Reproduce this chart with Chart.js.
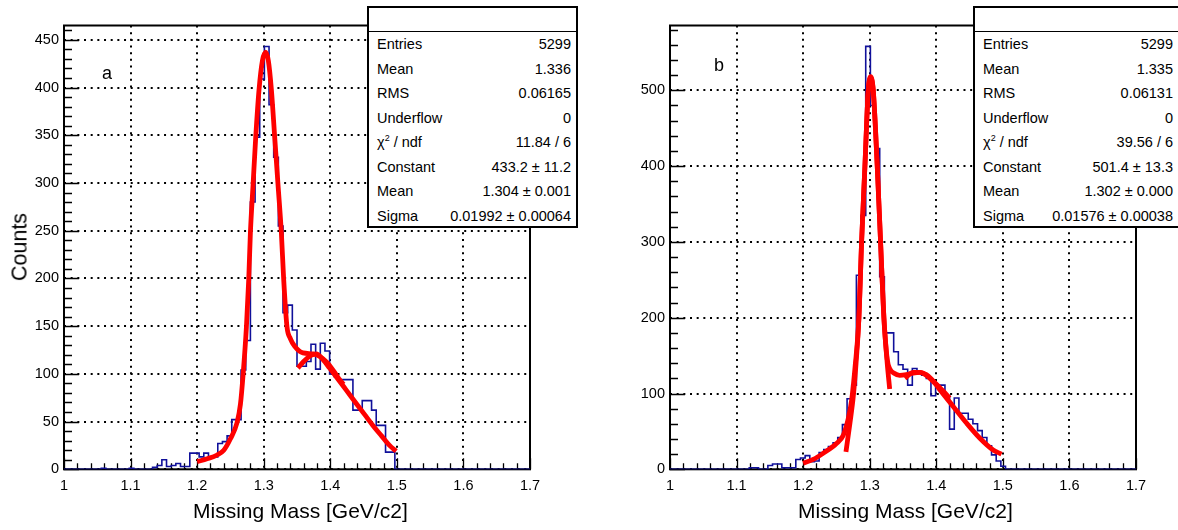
<!DOCTYPE html>
<html>
<head>
<meta charset="utf-8">
<script src="https://cdn.jsdelivr.net/npm/chart.js@4.4.1/dist/chart.umd.min.js"></script>
<style>
  body { margin: 0; background: #fff; width: 1178px; height: 530px; overflow: hidden; position: relative;
         font-family: "Liberation Sans", Arial, sans-serif; color: #000; }
  canvas { position: absolute; top: 0; }
  #chartA { left: 0; }
  #chartB { left: 589px; }
  .stats { position: absolute; top: 6px; height: 222px; background: #fff; border: 2px solid #000;
           box-sizing: border-box; font-size: 14.5px; z-index: 2; }
  .stats .head { height: 23px; border-bottom: 1.5px solid #000; }
  .stats .row { display: flex; justify-content: space-between; height: 24.5px; line-height: 24.5px; padding: 0 5px 0 8px; }
  .stats sup { font-size: 9px; line-height: 0; }
  .txt { position: absolute; white-space: nowrap; z-index: 2; }
  .xtitle { font-size: 21px; top: 499px; }
  .ytitle { font-size: 21.5px; left: 20px; top: 247px; transform: translate(-50%, -50%) rotate(-90deg); }
  .tag { font-size: 18px; }
</style>
</head>
<body>
<canvas id="chartA" width="589" height="530"></canvas>
<canvas id="chartB" width="589" height="530"></canvas>

<div class="stats" style="left:367px; width:211px;">
  <div class="head"></div>
  <div class="row"><span>Entries</span><span>5299</span></div>
  <div class="row"><span>Mean</span><span>1.336</span></div>
  <div class="row"><span>RMS</span><span>0.06165</span></div>
  <div class="row"><span>Underflow</span><span>0</span></div>
  <div class="row"><span>χ<sup>2</sup> / ndf</span><span>11.84 / 6</span></div>
  <div class="row"><span>Constant</span><span>433.2 ± 11.2</span></div>
  <div class="row"><span>Mean</span><span>1.304 ± 0.001</span></div>
  <div class="row"><span>Sigma</span><span>0.01992 ± 0.00064</span></div>
</div>
<div class="stats" style="left:973px; width:212px;">
  <div class="head"></div>
  <div class="row" style="padding-right:10px"><span>Entries</span><span>5299</span></div>
  <div class="row" style="padding-right:10px"><span>Mean</span><span>1.335</span></div>
  <div class="row" style="padding-right:10px"><span>RMS</span><span>0.06131</span></div>
  <div class="row" style="padding-right:10px"><span>Underflow</span><span>0</span></div>
  <div class="row" style="padding-right:10px"><span>χ<sup>2</sup> / ndf</span><span>39.56 / 6</span></div>
  <div class="row" style="padding-right:10px"><span>Constant</span><span>501.4 ± 13.3</span></div>
  <div class="row" style="padding-right:10px"><span>Mean</span><span>1.302 ± 0.000</span></div>
  <div class="row" style="padding-right:10px"><span>Sigma</span><span>0.01576 ± 0.00038</span></div>
</div>

<div class="txt ytitle">Counts</div>
<div class="txt xtitle" style="left:193px;">Missing Mass [GeV/c2]</div>
<div class="txt xtitle" style="left:798px;">Missing Mass [GeV/c2]</div>
<div class="txt tag" style="left:102px; top:63px;">a</div>
<div class="txt tag" style="left:714px; top:55px;">b</div>

<script>
// histogram binning: 100 bins from 1.0 to 1.7
const xMin = 1.0;
const xMax = 1.7;
const binWidth = 0.007;

// bin contents, panel a
const countsA = [
  0, 0, 0, 0, 0, 0, 0, 0, 1, 0,
  0, 0, 0, 0, 1, 0, 0, 0, 0, 2,
  4, 10, 3, 4, 6, 3, 3, 17, 17, 13,
  17, 12, 13, 27, 29, 35, 52, 52, 104, 135,
  280, 348, 409, 443, 382, 327, 255, 164, 172, 146,
  108, 108, 113, 131, 105, 132, 124, 100, 97, 94,
  94, 94, 62, 62, 72, 72, 62, 46, 46, 18,
  18, 0, 0, 0, 0, 0, 0, 0, 0, 0,
  0, 0, 0, 0, 0, 0, 0, 0, 0, 0,
  0, 0, 0, 0, 0, 0, 0, 0, 0, 0
];

// bin contents, panel b
const countsB = [
  0, 0, 0, 0, 0, 0, 0, 0, 0, 0,
  0, 0, 0, 0, 0, 0, 0, 2, 2, 0,
  0, 5, 7, 7, 2, 2, 2, 13, 15, 18,
  10, 11, 22, 26, 30, 35, 42, 59, 93, 111,
  256, 335, 558, 480, 423, 254, 180, 180, 155, 138,
  132, 111, 133, 127, 124, 120, 97, 111, 111, 97,
  53, 94, 74, 74, 66, 60, 51, 42, 31, 19,
  11, 4, 0, 0, 0, 0, 0, 0, 0, 0,
  0, 0, 0, 0, 0, 0, 0, 0, 0, 0,
  0, 0, 0, 0, 0, 0, 0, 0, 0, 0
];

// fit curves
const fitA_x = [1.2, 1.215, 1.23, 1.24, 1.25, 1.26, 1.265, 1.269, 1.274, 1.2775, 1.28, 1.284, 1.288, 1.293, 1.298, 1.303,
                1.307, 1.3115, 1.3165, 1.3215, 1.3265, 1.33, 1.335, 1.34, 1.3465, 1.359, 1.374, 1.385, 1.395, 1.405, 1.415, 1.42];
const fitA_y = [8, 11, 15, 20, 32, 49, 68, 99, 149, 199, 248, 298, 348, 398, 428, 437,
                428, 398, 348, 298, 248, 199, 149, 137, 129, 122, 121, 118, 112, 103, 93, 89];

const bkgA_x = [1.3515, 1.36, 1.37, 1.379, 1.39, 1.399, 1.41, 1.424, 1.439, 1.452, 1.464, 1.477, 1.489, 1.499];
const bkgA_y = [106, 113, 119, 121, 114, 106, 96, 83, 69, 57, 46, 35, 25, 19];

const fitB_x = [1.2, 1.215, 1.23, 1.25, 1.2603, 1.2678, 1.2728, 1.278, 1.2838, 1.2878, 1.2928, 1.2978, 1.3015,
                1.3053, 1.3113, 1.3163, 1.3213, 1.3263, 1.3305, 1.336, 1.345, 1.355, 1.365, 1.375, 1.385, 1.395, 1.405, 1.415, 1.42];
const fitB_y = [8, 13, 21, 34, 45, 67, 91, 135, 200, 300, 400, 500, 518,
                500, 400, 300, 200, 145, 132, 127, 124, 125, 127, 128, 125, 117, 108, 99, 94];

const gausB_x = [1.2643, 1.2703, 1.2753, 1.2795, 1.2838, 1.2878, 1.2928, 1.2978, 1.3015, 1.3053, 1.3113, 1.3163, 1.3213, 1.3263, 1.33];
const gausB_y = [23, 61, 96, 140, 200, 300, 400, 500, 516, 500, 400, 300, 200, 140, 106];

const bkgB_x = [1.3529, 1.3653, 1.3754, 1.3904, 1.4004, 1.4054, 1.4254, 1.4454, 1.4655, 1.4854, 1.498];
const bkgB_y = [120, 128, 128, 120, 111, 105, 83, 61, 41, 25.5, 20];

// ROOT style frame with inside ticks
const rootFrame = {
  id: 'rootFrame',
  beforeDatasetsDraw(chart, args, o) {
    const { ctx, chartArea: a, scales: { x, y } } = chart;
    ctx.save();
    ctx.strokeStyle = '#000';
    ctx.lineWidth = 1.3;
    ctx.beginPath();
    for (let i = 0; i <= 35; i++) {
      const px = Math.round(x.getPixelForValue(xMin + i * 0.02)) + 0.5;
      const len = i % 5 === 0 ? 11 : 6;
      ctx.moveTo(px, a.bottom);
      ctx.lineTo(px, a.bottom - len);
    }
    for (let i = 0; i * o.yMinor <= o.yMax; i++) {
      const py = Math.round(y.getPixelForValue(i * o.yMinor)) + 0.5;
      const len = (i * o.yMinor) % o.yStep === 0 ? 15 : 8;
      ctx.moveTo(a.left, py);
      ctx.lineTo(a.left + len, py);
    }
    ctx.stroke();
    ctx.lineWidth = 2;
    ctx.strokeRect(a.left, a.top, a.right - a.left, a.bottom - a.top);
    ctx.restore();
  }
};

// one point per bin low edge; 'before' keeps each bin's height across its width
function histPoints(counts) {
  const pts = counts.map((c, i) => ({ x: xMin + i * binWidth, y: c }));
  pts.push({ x: xMax, y: counts[counts.length - 1] });
  return pts;
}

function curve(xs, ys) {
  return {
    data: xs.map((x, i) => ({ x: x, y: ys[i] })),
    borderColor: '#ff0000',
    borderWidth: 4.8,
    pointRadius: 0,
    fill: false,
    cubicInterpolationMode: 'monotone'
  };
}

const tickFont = { family: 'Liberation Sans', size: 14.5 };

function makeChart(id, counts, curves, yMax, yStep, yMinor, leftW, rightPad) {
  return new Chart(document.getElementById(id), {
    type: 'line',
    data: {
      datasets: [
        ...curves,
        {
          data: histPoints(counts),
          stepped: 'before',
          borderColor: '#10109a',
          borderWidth: 1.6,
          pointRadius: 0,
          fill: false
        }
      ]
    },
    options: {
      responsive: false,
      animation: false,
      events: [],
      layout: { padding: { top: 25.5, right: rightPad, left: 0, bottom: 0 } },
      plugins: {
        legend: { display: false },
        tooltip: { enabled: false },
        rootFrame: { yMax: yMax, yStep: yStep, yMinor: yMinor }
      },
      scales: {
        x: {
          type: 'linear', min: xMin, max: xMax,
          afterFit: s => { s.height = 60.7; },
          ticks: {
            stepSize: 0.1, includeBounds: false, autoSkip: false, maxRotation: 0, padding: 8,
            color: '#000', font: tickFont,
            callback: v => String(Math.round(v * 10) / 10)
          },
          grid: { color: '#000', lineWidth: 2, drawTicks: false },
          border: { display: false, dash: [2, 4.67] }
        },
        y: {
          min: 0, max: yMax,
          afterFit: s => { s.width = leftW; },
          ticks: { stepSize: yStep, includeBounds: false, padding: 5, color: '#000', font: tickFont },
          grid: { color: '#000', lineWidth: 2, drawTicks: false },
          border: { display: false, dash: [2, 4.67] }
        }
      }
    },
    plugins: [rootFrame]
  });
}

makeChart('chartA', countsA, [curve(fitA_x, fitA_y), curve(bkgA_x, bkgA_y)], 465, 50, 10, 64, 59);
makeChart('chartB', countsB, [curve(fitB_x, fitB_y), curve(gausB_x, gausB_y), curve(bkgB_x, bkgB_y)], 585.5, 100, 20, 81, 42);
</script>
</body>
</html>
